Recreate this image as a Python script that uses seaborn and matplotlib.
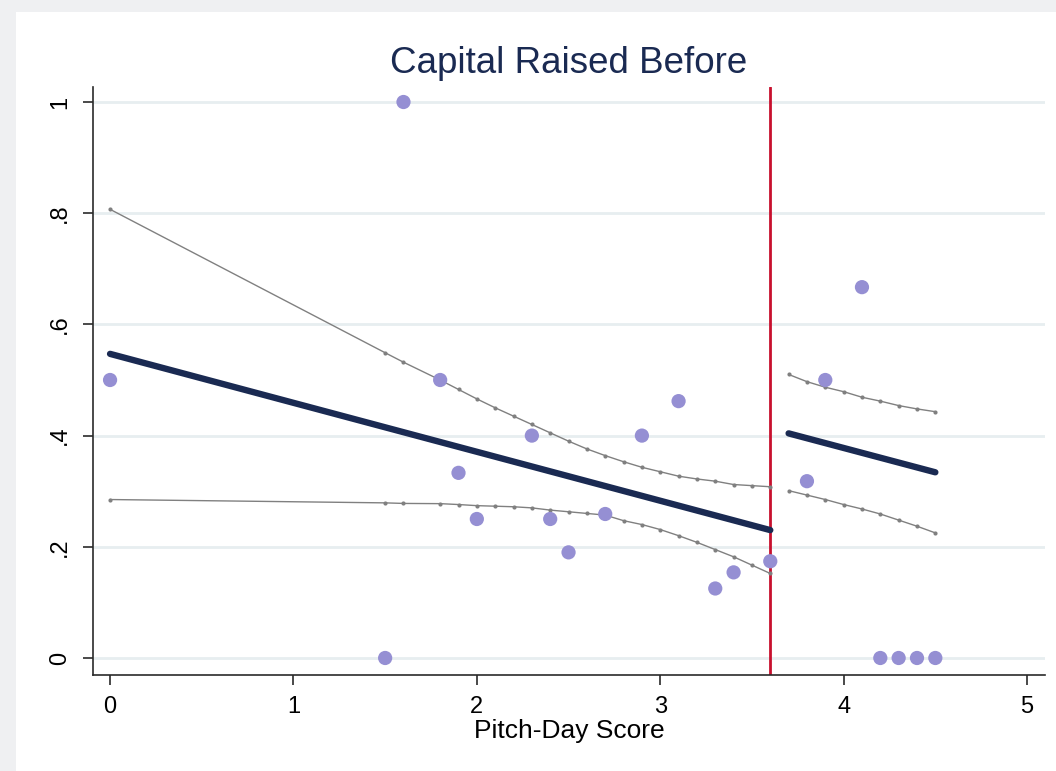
import matplotlib
matplotlib.use("Agg")
import matplotlib.pyplot as plt
from matplotlib.patches import Rectangle
import seaborn as sns
import pandas as pd

# Binned means of the outcome by pitch-day score
score = [0, 1.5, 1.6, 1.8, 1.9, 2.0, 2.3, 2.4, 2.5, 2.7, 2.9, 3.1, 3.3, 3.4, 3.6,
         3.8, 3.9, 4.1, 4.2, 4.3, 4.4, 4.5]
share_raised = [0.5, 0.0, 1.0, 0.5, 0.333, 0.25, 0.4, 0.25, 0.19, 0.259, 0.4, 0.462,
                0.125, 0.154, 0.174, 0.318, 0.5, 0.667, 0.0, 0.0, 0.0, 0.0]

# Linear fits on each side of the cutoff
cutoff = 3.6
fit_left_x = [0, 3.6]
fit_left_y = [0.547, 0.230]
fit_right_x = [3.7, 4.5]
fit_right_y = [0.404, 0.334]

# Confidence bands evaluated at the observed scores
ci_left_x = [0, 1.5, 1.6, 1.8, 1.9, 2.0, 2.1, 2.2, 2.3, 2.4, 2.5, 2.6, 2.7, 2.8,
             2.9, 3.0, 3.1, 3.2, 3.3, 3.4, 3.5, 3.6]
ci_left_hi = [0.807, 0.549, 0.532, 0.500, 0.483, 0.466, 0.450, 0.435, 0.420, 0.405,
              0.390, 0.376, 0.364, 0.353, 0.343, 0.335, 0.327, 0.322, 0.318, 0.312,
              0.310, 0.308]
ci_left_lo = [0.285, 0.279, 0.278, 0.2776, 0.276, 0.274, 0.273, 0.272, 0.270, 0.266,
              0.263, 0.260, 0.257, 0.247, 0.240, 0.231, 0.220, 0.208, 0.195, 0.182,
              0.167, 0.152]
ci_right_x = [3.7, 3.8, 3.9, 4.0, 4.1, 4.2, 4.3, 4.4, 4.5]
ci_right_hi = [0.510, 0.497, 0.487, 0.479, 0.469, 0.462, 0.454, 0.448, 0.443]
ci_right_lo = [0.301, 0.293, 0.285, 0.276, 0.268, 0.259, 0.248, 0.237, 0.225]

x_ticks = [0, 1, 2, 3, 4, 5]
y_ticks = [0, 0.2, 0.4, 0.6, 0.8, 1.0]
y_tick_labels = ["0", ".2", ".4", ".6", ".8", "1"]

sns.set_theme(style="white")
plt.rcParams["font.family"] = ["Liberation Sans", "DejaVu Sans"]

NAVY = "#1a2a52"
LAVENDER = "#958fd3"
CUTOFF_RED = "#c8102e"
BAND_GRAY = "#808080"
GRID = "#e7eef0"

fig = plt.figure(figsize=(10.56, 7.71), dpi=100, facecolor="#eff0f2")
fig.patches.append(Rectangle((16 / 1056, 0), 1 - 16 / 1056, 1 - 12 / 771,
                             transform=fig.transFigure, facecolor="white",
                             edgecolor="none", zorder=-10))
ax = fig.add_axes([93 / 1056, 1 - 675 / 771, (1045 - 93) / 1056, (675 - 87) / 771])
ax.set_facecolor("white")

for yv in y_ticks:
    ax.axhline(yv, color=GRID, lw=2, zorder=0)

ax.axvline(cutoff, color=CUTOFF_RED, lw=2, zorder=1)

bands = [
    (ci_left_x, ci_left_hi), (ci_left_x, ci_left_lo),
    (ci_right_x, ci_right_hi), (ci_right_x, ci_right_lo),
]
for bx, by in bands:
    sns.lineplot(x=bx, y=by, ax=ax, color=BAND_GRAY, lw=1.0, marker="o",
                 markersize=3, markeredgewidth=0, sort=False, estimator=None,
                 zorder=2)

for fx, fy in [(fit_left_x, fit_left_y), (fit_right_x, fit_right_y)]:
    sns.lineplot(x=fx, y=fy, ax=ax, color=NAVY, lw=4.6, sort=False,
                 estimator=None, zorder=3)
for ln in ax.lines:
    if ln.get_linewidth() > 4:
        ln.set_solid_capstyle("round")

df = pd.DataFrame({"score": score, "share": share_raised})
sns.scatterplot(data=df, x="score", y="share", ax=ax, color=LAVENDER, s=105,
                edgecolor="none", linewidth=0, zorder=4)

ax.set_xlim(-0.093, 5.098)
ax.set_ylim(-0.0306, 1.027)
ax.set_xticks(x_ticks)
ax.set_xticklabels([str(t) for t in x_ticks])
ax.set_yticks(y_ticks)
ax.set_yticklabels(y_tick_labels, rotation=90, va="center")

for side in ["top", "right"]:
    ax.spines[side].set_visible(False)
for side in ["left", "bottom"]:
    ax.spines[side].set_color("#2a2a2a")
    ax.spines[side].set_linewidth(1.2)

ax.tick_params(axis="both", which="major", length=7, width=1.2, color="#2a2a2a",
               labelsize=17, labelcolor="black", direction="out")
ax.tick_params(axis="y", pad=9)
ax.tick_params(axis="x", pad=8)
ax.xaxis.set_ticks_position("bottom")
ax.yaxis.set_ticks_position("left")

ax.set_xlabel("Pitch-Day Score", fontsize=19, color="black", labelpad=1)
ax.set_ylabel("")
ax.set_title("Capital Raised Before", fontsize=26.5, color=NAVY, pad=10)

fig.savefig("out.png", dpi=100, facecolor=fig.get_facecolor())
